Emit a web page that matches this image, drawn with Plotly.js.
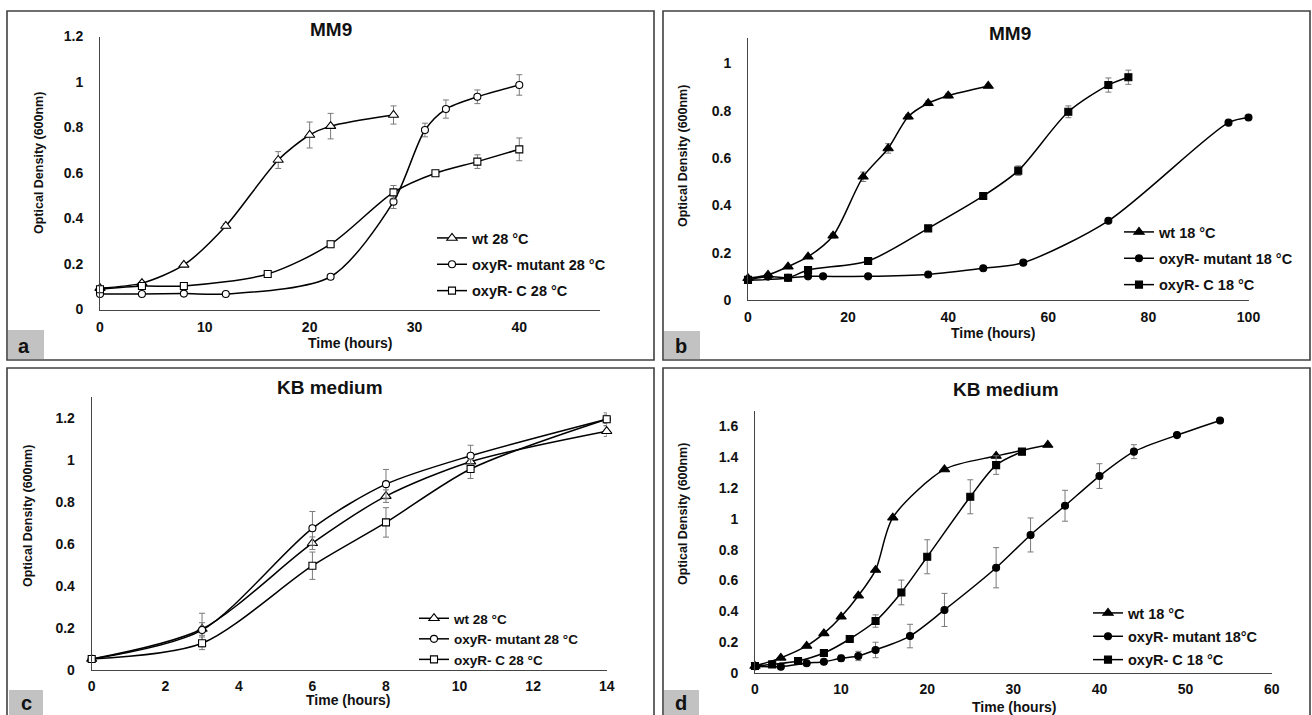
<!DOCTYPE html>
<html>
<head>
<meta charset="utf-8">
<script src="https://cdn.plot.ly/plotly-3.0.1.min.js"></script>
<style>html,body{margin:0;padding:0;background:#fff;}#chart{width:1312px;height:715px;}</style>
</head>
<body>
<div id="chart"></div>
<script>
// ---------- Panel a : MM9, 28 °C ----------
const aTimeWt  = [0, 4, 8, 12, 17, 20, 22, 28];
const aWt      = [0.094, 0.116, 0.196, 0.367, 0.657, 0.767, 0.806, 0.855];
const aWtErr   = [0.005, 0.008, 0.008, 0.01, 0.037, 0.057, 0.056, 0.04];
const aTimeMut = [0, 4, 8, 12, 22, 28, 31, 33, 36, 40];
const aMut     = [0.068, 0.068, 0.07, 0.068, 0.144, 0.474, 0.789, 0.881, 0.935, 0.987];
const aMutErr  = [0.004, 0.004, 0.004, 0.004, 0.008, 0.03, 0.03, 0.04, 0.03, 0.045];
const aTimeC   = [0, 4, 8, 16, 22, 28, 32, 36, 40];
const aC       = [0.089, 0.103, 0.103, 0.156, 0.287, 0.515, 0.599, 0.65, 0.704];
const aCErr    = [0.004, 0.005, 0.005, 0.008, 0.015, 0.03, 0.008, 0.03, 0.05];

// ---------- Panel b : MM9, 18 °C ----------
const bTimeWt  = [0, 4, 8, 12, 17, 23, 28, 32, 36, 40, 48];
const bWt      = [0.092, 0.106, 0.141, 0.183, 0.272, 0.521, 0.641, 0.775, 0.832, 0.864, 0.905];
const bWtErr   = [0, 0, 0.005, 0.005, 0.01, 0.02, 0.02, 0.01, 0.01, 0.01, 0.005];
const bTimeMut = [0, 4, 8, 12, 15, 24, 36, 47, 55, 72, 96, 100];
const bMut     = [0.085, 0.099, 0.094, 0.1, 0.1, 0.1, 0.108, 0.134, 0.158, 0.335, 0.75, 0.772];
const bMutErr  = [0, 0, 0, 0, 0, 0, 0, 0.005, 0.005, 0.005, 0.005, 0.005];
const bTimeC   = [0, 8, 12, 24, 36, 47, 54, 64, 72, 76];
const bC       = [0.085, 0.094, 0.127, 0.165, 0.303, 0.44, 0.547, 0.796, 0.909, 0.942];
const bCErr    = [0, 0, 0.005, 0.01, 0.01, 0.01, 0.02, 0.025, 0.03, 0.03];

// ---------- Panel c : KB medium, 28 °C ----------
const cTime    = [0, 3, 6, 8, 10.3, 14];
const cWt      = [0.052, 0.195, 0.603, 0.827, 0.991, 1.136];
const cWtErr   = [0.005, 0.03, 0.03, 0.03, 0.03, 0.025];
const cMut     = [0.052, 0.19, 0.674, 0.884, 1.019, 1.193];
const cMutErr  = [0.005, 0.08, 0.08, 0.07, 0.05, 0.03];
const cC       = [0.052, 0.127, 0.496, 0.702, 0.956, 1.193];
const cCErr    = [0.005, 0.03, 0.065, 0.07, 0.045, 0.02];

// ---------- Panel d : KB medium, 18 °C ----------
const dTimeWt  = [0, 3, 6, 8, 10, 12, 14, 16, 22, 28, 34];
const dWt      = [0.047, 0.1, 0.177, 0.258, 0.366, 0.502, 0.668, 1.007, 1.319, 1.406, 1.477];
const dWtErr   = [0, 0, 0, 0, 0, 0, 0, 0, 0, 0, 0];
const dTimeMut = [0, 3, 6, 8, 10, 12, 14, 18, 22, 28, 32, 36, 40, 44, 49, 54];
const dMut     = [0.045, 0.043, 0.065, 0.075, 0.097, 0.112, 0.151, 0.241, 0.41, 0.683, 0.895, 1.084, 1.276, 1.434, 1.541, 1.636];
const dMutErr  = [0, 0, 0.005, 0.01, 0.02, 0.03, 0.05, 0.076, 0.107, 0.13, 0.11, 0.1, 0.08, 0.045, 0, 0];
const dTimeC   = [0, 2, 5, 8, 11, 14, 17, 20, 25, 28, 31];
const dC       = [0.047, 0.058, 0.08, 0.131, 0.222, 0.338, 0.523, 0.754, 1.142, 1.347, 1.434];
const dCErr    = [0, 0, 0, 0.01, 0.01, 0.04, 0.08, 0.11, 0.11, 0.06, 0.02];

// ---------- text ----------
const panelTitles = ['MM9', 'MM9', 'KB medium', 'KB medium'];
const panelLetters = ['a', 'b', 'c', 'd'];
const namesA = ['wt 28 °C', 'oxyR- mutant 28 °C', 'oxyR- C 28 °C'];
const namesB = ['wt 18 °C', 'oxyR- mutant 18 °C', 'oxyR- C 18 °C'];
const namesC = ['wt 28 °C', 'oxyR- mutant 28 °C', 'oxyR- C 28 °C'];
const namesD = ['wt 18 °C', 'oxyR- mutant 18°C', 'oxyR- C 18 °C'];
const yTitle = 'Optical Density (600nm)';
const xTitle = 'Time (hours)';

// ---------- helpers ----------
const W = 1312, H = 715;
const FX = px => px / W;
const FY = py => 1 - py / H;
const FONT = 'Liberation Sans, Arial, Helvetica, sans-serif';

function trace(x, y, err, name, symbol, filled, xa, ya, leg, grp) {
  return {
    x: x, y: y, name: name, type: 'scatter', mode: 'lines+markers',
    xaxis: xa, yaxis: ya, legend: leg, legendgroup: grp,
    cliponaxis: false,
    line: {color: '#000', width: 1.5, shape: 'spline', smoothing: 0.8},
    marker: {
      symbol: symbol,
      size: symbol === 'triangle-up' ? 9 : 7,
      color: filled ? '#000' : '#fff',
      line: {color: '#000', width: 1.1}
    },
    error_y: {type: 'data', array: err, visible: true, color: '#7a7a7a', thickness: 1, width: 3}
  };
}

const data = [
  trace(aTimeWt, aWt, aWtErr, namesA[0], 'triangle-up', false, 'x', 'y', 'legend', 'a1'),
  trace(aTimeMut, aMut, aMutErr, namesA[1], 'circle', false, 'x', 'y', 'legend', 'a2'),
  trace(aTimeC, aC, aCErr, namesA[2], 'square', false, 'x', 'y', 'legend', 'a3'),
  trace(bTimeWt, bWt, bWtErr, namesB[0], 'triangle-up', true, 'x2', 'y2', 'legend2', 'b1'),
  trace(bTimeMut, bMut, bMutErr, namesB[1], 'circle', true, 'x2', 'y2', 'legend2', 'b2'),
  trace(bTimeC, bC, bCErr, namesB[2], 'square', true, 'x2', 'y2', 'legend2', 'b3'),
  trace(cTime, cWt, cWtErr, namesC[0], 'triangle-up', false, 'x3', 'y3', 'legend3', 'c1'),
  trace(cTime, cMut, cMutErr, namesC[1], 'circle', false, 'x3', 'y3', 'legend3', 'c2'),
  trace(cTime, cC, cCErr, namesC[2], 'square', false, 'x3', 'y3', 'legend3', 'c3'),
  trace(dTimeWt, dWt, dWtErr, namesD[0], 'triangle-up', true, 'x4', 'y4', 'legend4', 'd1'),
  trace(dTimeMut, dMut, dMutErr, namesD[1], 'circle', true, 'x4', 'y4', 'legend4', 'd2'),
  trace(dTimeC, dC, dCErr, namesD[2], 'square', true, 'x4', 'y4', 'legend4', 'd3')
];

const tickFont = {family: FONT, size: 14, color: '#111', weight: 'bold'};
function xax(p0, p1, range, dtick, anchor, tl) {
  return {domain: [FX(p0), FX(p1)], range: range, dtick: dtick, anchor: anchor,
    showline: true, linecolor: '#444', linewidth: 1, showgrid: false, zeroline: false,
    ticks: 'outside', ticklen: tl, tickcolor: 'rgba(0,0,0,0)', tickfont: tickFont, fixedrange: true};
}
function yax(p0, p1, range, dtick, anchor) {
  return {domain: [FY(p0), FY(p1)], range: range, dtick: dtick, anchor: anchor,
    showline: true, linecolor: '#444', linewidth: 1, showgrid: false, zeroline: false,
    ticks: 'outside', ticklen: 13, tickcolor: 'rgba(0,0,0,0)', tickfont: tickFont, fixedrange: true};
}
function leg(px, py, gap, fs) {
  return {x: FX(px), y: FY(py), xanchor: 'left', yanchor: 'top', bgcolor: 'rgba(0,0,0,0)',
    font: {family: FONT, size: fs, color: '#111', weight: 'bold'}, tracegroupgap: gap,
    itemwidth: 30, borderwidth: 0};
}

// frames & label boxes (pixel coordinates converted to paper)
const frames = [[7, 11, 654, 360], [663, 11, 1310, 360], [7, 368, 654, 718], [663, 368, 1310, 718]];
const boxes  = [[8, 330, 44, 359], [664, 331, 700, 359], [9, 690, 43, 715], [664, 690, 699, 715]];
const shapes = [];
frames.forEach(f => shapes.push({type: 'rect', xref: 'paper', yref: 'paper',
  x0: FX(f[0]), x1: FX(f[2]), y0: FY(f[3]), y1: FY(f[1]), line: {color: '#404040', width: 1.6}, layer: 'below'}));
boxes.forEach(b => shapes.push({type: 'rect', xref: 'paper', yref: 'paper',
  x0: FX(b[0]), x1: FX(b[2]), y0: FY(b[3]), y1: FY(b[1]), line: {width: 0}, fillcolor: '#c2c2c2', layer: 'below'}));

const titlePos = [[331, 29], [1010, 33], [330, 387], [1006, 389]];
const yTitlePos = [[39, 163], [683, 156], [28, 516], [683, 514]];
const xTitlePos = [[350, 343], [994, 333], [348, 700], [1014, 707]];
const letterPos = [[24, 346], [681, 346], [26, 703], [681, 703]];

const annotations = [];
for (let i = 0; i < 4; i++) {
  annotations.push({xref: 'paper', yref: 'paper', x: FX(titlePos[i][0]), y: FY(titlePos[i][1]),
    text: panelTitles[i], showarrow: false, xanchor: 'center', yanchor: 'middle',
    font: {family: FONT, size: 19, color: '#111', weight: 'bold'}});
  annotations.push({xref: 'paper', yref: 'paper', x: FX(yTitlePos[i][0]), y: FY(yTitlePos[i][1]),
    text: yTitle, textangle: -90, showarrow: false, xanchor: 'center', yanchor: 'middle',
    font: {family: FONT, size: 12.5, color: '#111', weight: 'bold'}});
  annotations.push({xref: 'paper', yref: 'paper', x: FX(xTitlePos[i][0]), y: FY(xTitlePos[i][1]),
    text: xTitle, showarrow: false, xanchor: 'center', yanchor: 'middle',
    font: {family: FONT, size: 14, color: '#111', weight: 'bold'}});
  annotations.push({xref: 'paper', yref: 'paper', x: FX(letterPos[i][0]), y: FY(letterPos[i][1]),
    text: panelLetters[i], showarrow: false, xanchor: 'center', yanchor: 'middle',
    font: {family: FONT, size: 20, color: '#111', weight: 'bold'}});
}

const layout = {
  width: W, height: H, margin: {l: 0, r: 0, t: 0, b: 0},
  paper_bgcolor: '#fff', plot_bgcolor: 'rgba(0,0,0,0)',
  showlegend: true,
  xaxis:  xax(100, 600, [0, 47.7], 10, 'y', 5),
  yaxis:  yax(309.5, 36.5, [0, 1.2], 0.2, 'x'),
  xaxis2: xax(748, 1248.5, [0, 100], 20, 'y2', 4),
  yaxis2: yax(300, 38, [0, 1.108], 0.2, 'x2'),
  xaxis3: xax(91.7, 606.7, [0, 14], 2, 'y3', 3),
  yaxis3: yax(670, 396.7, [0, 1.3], 0.2, 'x3'),
  xaxis4: xax(755, 1271.7, [0, 60], 10, 'y4', 3),
  yaxis4: yax(673.3, 411, [0, 1.697], 0.2, 'x4'),
  legend:  leg(432, 222, 4.5, 14.5),
  legend2: leg(1119, 216, 4.5, 14.5),
  legend3: leg(414, 603, 0, 13.5),
  legend4: leg(1088, 597, 1.5, 14.5),
  shapes: shapes,
  annotations: annotations
};

Plotly.newPlot('chart', data, layout, {displayModeBar: false, staticPlot: true});
</script>
</body>
</html>
